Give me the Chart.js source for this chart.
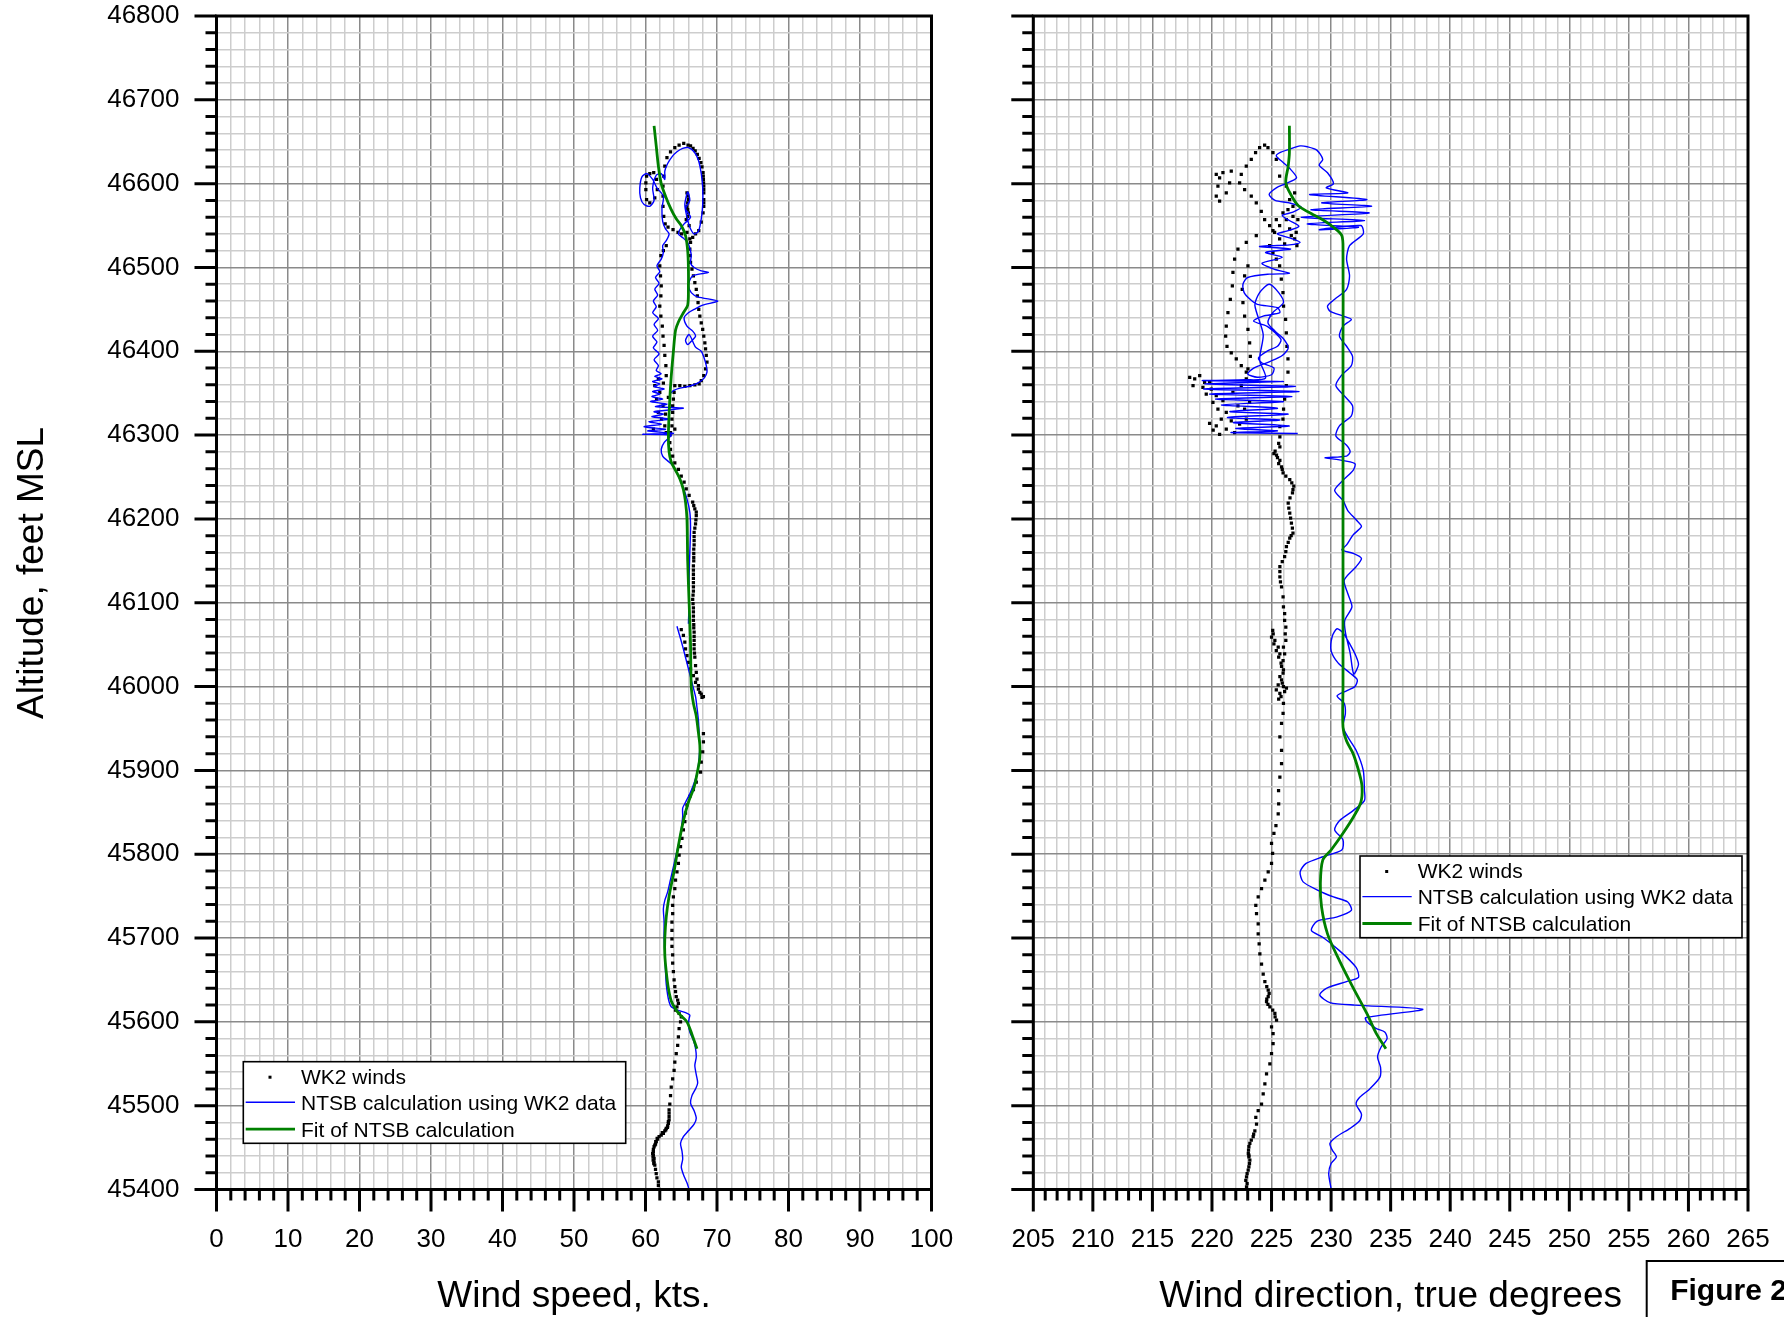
<!DOCTYPE html>
<html>
<head>
<meta charset="utf-8">
<script src="https://cdn.jsdelivr.net/npm/chart.js@4.4.1/dist/chart.umd.min.js"></script>
<style>
  html, body { margin: 0; padding: 0; background: #fff; }
  body { width: 1784px; height: 1317px; position: relative; overflow: hidden; }
  canvas { position: absolute; top: 0; }
  #speedChart { left: 0; }
  #dirChart { left: 980px; }
</style>
</head>
<body>
<canvas id="speedChart" width="980" height="1317"></canvas>
<canvas id="dirChart" width="804" height="1317"></canvas>
<script>
// ---------- axis labels ----------
const altitudeTicks = [45400, 45500, 45600, 45700, 45800, 45900, 46000, 46100, 46200, 46300, 46400, 46500, 46600, 46700, 46800];
const speedTicks = [0, 10, 20, 30, 40, 50, 60, 70, 80, 90, 100];
const directionTicks = [205, 210, 215, 220, 225, 230, 235, 240, 245, 250, 255, 260, 265];

const seriesNames = ['WK2 winds', 'NTSB calculation using WK2 data', 'Fit of NTSB calculation'];
const axisTitles = { altitude: 'Altitude, feet MSL', speed: 'Wind speed, kts.', direction: 'Wind direction, true degrees' };
const figureLabel = 'Figure 2';

// ---------- wind speed (kts, feet) ----------
const wk2Speed = [
  [61.9,45400],[61.8,45405],[61.8,45409],[61.6,45414],[61.5,45419],[61.4,45424],[61.3,45429],[61.2,45433],[61.2,45437],[61.1,45441],
  [61.1,45445],[61.1,45448],[61.2,45451],[61.4,45454],[61.5,45457],[61.7,45460],[61.9,45463],[62.2,45465],[62.5,45467],[62.7,45470],
  [62.9,45473],[63.1,45476],[63.2,45479],[63.3,45483],[63.3,45487],[63.3,45491],[63.3,45495],[63.4,45502],[63.5,45512],[63.6,45522],
  [63.8,45532],[64.0,45542],[64.1,45552],[64.3,45562],[64.5,45572],[64.6,45582],[64.7,45592],[64.9,45600],[65.0,45606],[64.7,45610],
  [64.2,45614],[64.4,45618],[64.6,45622],[64.5,45626],[64.3,45630],[64.2,45636],[64.1,45642],[64.0,45650],[63.9,45660],[63.8,45670],
  [63.8,45680],[63.7,45690],[63.7,45699],[63.7,45709],[63.7,45719],[63.8,45729],[63.8,45739],[63.9,45749],[64.1,45759],[64.2,45769],
  [64.4,45779],[64.6,45789],[64.7,45799],[64.9,45809],[65.1,45819],[65.3,45829],[65.5,45839],[65.6,45849],[65.8,45859],[66.2,45869],
  [66.7,45877],[67.1,45886],[67.7,45898],[67.8,45910],[68.0,45922],[68.1,45934],[68.1,45944],
  [68.1,45988],[67.9,45987],[67.8,45991],[67.6,45993],[67.4,46001],[67.2,46009],[67.1,46017],[67.0,46025],[66.9,46035],[66.8,46045],
  [66.8,46055],[66.8,46065],[66.75,46074],[66.7,46084],[66.7,46094],[66.6,46104],[66.7,46114],[66.7,46124],[66.7,46134],[66.7,46144],
  [66.75,46154],[66.75,46164],[66.8,46174],[66.8,46184],[67.0,46194],[67.1,46204],[66.9,46212],[66.6,46220],[66.1,46228],[65.7,46236],
  [65.4,46244],[65.0,46251],[64.6,46259],[64.1,46267],[63.8,46275],[63.5,46283],[63.4,46291],[63.4,46300],
  [65.0,46068],[65.3,46061],[65.5,46053],[65.6,46045],[65.8,46037],[66.0,46029],[66.3,46021],[66.7,46013],[67.0,46005],[67.4,45997],
  [63.5,46303],[63.7,46311],[63.7,46319],[63.8,46327],[63.8,46335],[63.9,46343],[64.0,46351],[64.1,46359],[64.8,46359],[65.5,46358],
  [66.2,46359],[66.9,46360],[67.5,46361],[67.8,46365],[68.15,46371],[68.4,46379],[68.6,46387],[68.5,46395],[68.4,46403],[68.3,46410],
  [68.15,46418],[68.0,46426],[67.8,46434],[67.6,46442],[67.45,46450],[67.35,46458],[67.25,46466],[67.1,46474],[66.9,46482],[66.7,46490],
  [66.5,46498],[66.3,46506],[66.25,46514],[66.2,46522],[66.3,46530],[66.6,46536],[67.0,46540],[67.45,46544],[67.8,46554],[68.05,46565],
  [68.15,46573],[68.15,46581],[68.15,46589],[68.15,46597],[68.1,46605],[68.05,46613],[67.75,46625],[67.25,46635],[66.65,46642],[65.95,46646],
  [65.35,46648],[64.7,46646],[64.1,46643],[63.5,46638],[63.0,46631],[62.7,46621],[62.55,46609],[62.45,46597],[62.45,46585],[62.45,46573],
  [62.55,46561],[62.75,46552],[63.15,46548],[63.85,46545],[64.55,46542],[65.05,46540],
  [65.8,46589],[66.0,46581],[65.8,46573],[66.0,46565],[65.7,46557],[66.1,46550],[65.8,46542],[66.2,46534],[65.9,46585],[65.9,46577],
  [65.9,46569],[65.9,46561],
  [62.9,46526],[62.5,46520],[62.15,46514],[62.0,46502],[62.1,46490],[62.2,46478],[62.15,46466],[62.0,46454],[62.15,46442],[62.35,46430],
  [62.45,46418],[62.6,46407],[62.7,46395],[62.85,46383],[62.9,46371],
  [60.15,46609],[60.6,46612],[61.15,46613],[61.55,46605],[61.65,46593],[61.3,46583],[60.6,46577],[60.15,46581],[60.05,46593],[60.05,46601],
  [61.8,46367],[61.3,46359],[62.0,46351],[61.55,46343],[62.45,46335],[61.8,46327],[62.25,46319],[62.7,46311],[62.9,46303],[61.1,46307],
  [64.1,46307],[62.5,46362],[63.2,46345],[62.8,46325],
  [61.16,45431],[61.07,45435],[61.05,45439],[61.0,45443],[61.3,45453],[61.44,45457],[61.63,45461],[62.35,45468],[62.84,45471],[63.07,45474],
  [63.2,45481],[66.85,46040],[66.8,46050],[66.8,46060],[66.75,46070],[66.7,46079],[66.7,46089],[66.65,46099],[66.65,46109],[66.7,46119],
  [66.7,46129],[66.7,46139],[66.75,46150],[66.75,46159],[66.8,46169],[66.8,46179],[66.9,46189],[67.05,46199],[67.1,46208],[66.75,46216],
  [68.15,46577],[68.15,46593],[68.12,46601],[68.08,46609],[67.9,46620],[67.5,46630],[66.95,46639],[66.3,46645]
];

const ntsbSpeed = [
  [66.1,45400],[65.8,45408],[65.3,45418],[65.0,45427],[65.2,45436],[65.1,45446],[64.9,45455],[65.3,45463],[66.0,45470],[66.8,45478],
  [67.1,45485],[66.8,45494],[66.3,45503],[66.5,45512],[67.0,45520],[67.3,45527],[67.1,45537],[66.9,45548],[67.1,45558],[67.0,45568],
  [66.7,45578],[66.2,45588],[66.0,45597],[66.1,45604],[66.2,45608],[65.6,45611],[64.5,45614],[63.6,45618],[63.3,45624],[63.1,45632],
  [62.9,45645],[62.8,45660],[62.7,45680],[62.6,45700],[62.6,45720],[62.5,45735],[62.7,45745],[63.1,45755],[63.5,45770],[63.9,45785],
  [64.3,45800],[64.7,45815],[65.0,45830],[65.2,45845],[65.2,45855],[65.6,45862],[66.2,45872],[66.8,45885],[67.3,45900],[67.5,45915],
  [67.6,45930],[67.5,45945],[67.4,45960],[67.2,45975],[67.0,45988],[66.4,46008],[65.8,46028],[65.2,46048],[64.7,46063],[64.4,46072],
  [null,null],
  [66.0,46075],[66.1,46100],[66.1,46130],[66.2,46160],[66.3,46190],[66.2,46208],[65.8,46224],[65.2,46239],[64.5,46253],[63.8,46264],
  [63.0,46270],[62.4,46275],[62.2,46283],[62.6,46291],[63.3,46297],[63.6,46300],
  [59.6,46301],[63.9,46302],[60.3,46305],[62.8,46307],[59.8,46310],[62.2,46313],[60.5,46316],[63.4,46319],[60.9,46322],[62.5,46325],
  [61.2,46328],[65.3,46332],[61.4,46334],[63.0,46337],[60.7,46340],[62.4,46343],[60.9,46346],[62.0,46349],[61.0,46352],[62.6,46355],
  [61.2,46358],[62.0,46361],[61.0,46364],[62.3,46367],[61.3,46370],[62.2,46373],[61.5,46377],
  [61.8,46383],[61.2,46390],[61.9,46397],[61.1,46404],[61.6,46411],[61.0,46418],[61.7,46425],[61.2,46432],[61.8,46439],[61.0,46446],
  [61.5,46453],[61.1,46460],[61.7,46467],[61.3,46474],[61.9,46481],[61.4,46488],[62.0,46495],[61.6,46502],[62.2,46510],[62.5,46518],
  [62.4,46526],[62.9,46532],[63.3,46540],[62.8,46546],
  [62.4,46555],[62.3,46570],[62.5,46585],[61.6,46595],[61.0,46605],[60.2,46612],[59.5,46608],[59.2,46595],[59.3,46583],[59.8,46575],
  [60.6,46573],[61.2,46580],[61.0,46595],[61.5,46610],[62.2,46612],[62.7,46605],[62.7,46615],[63.1,46624],[63.7,46632],[64.4,46638],
  [65.2,46642],[66.0,46643],[66.8,46638],[67.4,46628],[67.8,46612],[68.0,46595],[68.0,46575],[67.8,46558],[67.4,46543],
  [66.8,46540],[66.2,46548],[65.8,46560],[65.5,46575],[65.9,46590],[66.2,46580],[65.6,46570],[66.3,46560],[65.4,46552],[64.8,46545],
  [64.6,46540],[65.3,46535],[66.0,46528],[66.4,46515],
  [66.3,46505],[66.8,46500],[67.8,46496],[68.8,46494],[67.5,46492],[66.6,46490],[66.2,46485],[66.0,46478],[66.4,46470],[67.3,46465],
  [70.1,46460],[68.0,46455],[66.8,46450],[66.0,46446],[65.4,46440],[65.8,46430],[66.6,46424],[67.0,46418],[66.4,46412],[65.9,46408],
  [65.6,46413],[66.1,46420],[67.0,46405],[67.8,46400],[68.2,46392],[68.5,46383],[68.6,46375],[68.2,46368],[67.3,46362],[66.0,46358],
  [64.8,46356],[63.9,46353],[63.5,46350]
];

const fitSpeed = [
  [61.2,46669],[61.5,46645],[61.8,46621],[62.2,46600],[62.8,46585],[63.6,46569],[64.3,46558],[65.0,46550],[65.6,46538],[65.9,46520],
  [66.0,46500],[66.0,46475],[65.9,46455],[65.3,46446],[64.6,46435],[64.2,46425],[63.9,46400],[63.6,46370],[63.4,46343],[63.2,46300],
  [63.3,46280],[63.6,46268],[64.2,46258],[64.8,46248],[65.3,46235],[65.6,46220],[65.8,46200],[65.9,46150],[66.1,46100],[66.3,46050],
  [66.4,46000],[66.7,45980],[67.1,45965],[67.4,45945],[67.6,45930],[67.6,45915],[67.3,45900],[66.8,45880],[66.0,45862],[65.3,45840],
  [64.6,45810],[64.0,45780],[63.3,45750],[62.9,45725],[62.7,45700],[62.7,45680],[62.9,45660],[63.2,45640],[63.6,45625],[64.3,45614],
  [65.0,45607],[65.8,45600],[66.5,45585],[67.2,45568]
];

// ---------- wind direction (degrees true, feet) ----------
const wk2Direction = [
  [222.9,45403],[222.84,45411],[223.04,45423],[223.18,45435],[223.1,45441],[223.07,45447],[223.18,45455],[223.46,45463],[223.6,45470],[223.74,45478],
  [223.68,45486],[223.88,45494],[224.16,45502],[224.3,45514],[224.44,45526],[224.58,45538],[224.86,45550],[225.0,45562],[225.13,45574],[225.13,45586],
  [225.0,45594],[225.42,45602],[225.28,45610],[224.86,45618],[224.58,45624],[224.72,45630],[224.72,45638],[224.44,45648],[224.3,45657],[224.16,45669],
  [224.02,45681],[223.96,45693],[223.88,45705],[223.88,45717],[223.74,45729],[223.68,45739],[223.88,45749],[224.16,45759],[224.44,45769],[224.72,45779],
  [225.0,45789],[225.09,45801],[225.0,45813],[225.2,45825],[225.37,45834],[225.56,45848],[225.6,45860],
  [225.59,45876],[225.7,45892],[225.84,45908],[225.84,45924],[225.7,45940],[225.84,45956],[225.97,45968],[226.0,45980],[225.7,45992],[225.4,45996],
  [226.0,46000],[225.56,46002],[226.25,45998],[225.84,46008],[225.97,46016],[225.84,46024],[225.97,46031],[225.7,46039],[225.56,46047],[225.28,46055],
  [225.14,46063],[225.1,46067],[226.1,46039],[226.2,46055],[226.2,46071],[226.1,46079],[226.1,46087],[226.0,46095],[225.97,46107],[225.84,46119],
  [225.7,46131],[225.7,46143],[226.1,46155],[226.25,46167],[226.53,46177],[226.8,46183],[226.67,46195],[226.53,46207],[226.4,46219],[226.76,46231],
  [226.87,46239],[226.53,46247],[225.97,46255],[225.84,46262],[225.7,46270],[225.42,46276],[225.2,46278],[225.7,46286],[225.7,46298],[225.7,46310],
  [225.96,46319],[226.01,46331],[226.1,46343],[226.24,46359],[226.38,46375],[226.38,46391],[226.29,46406],[226.24,46422],[226.18,46438],[226.01,46454],
  [225.96,46470],[225.82,46486],[225.68,46502],[225.4,46510],[225.12,46518],[224.84,46526],
  [225.26,46542],[225.68,46550],[226.24,46557],[226.8,46561],[227.21,46557],[227.07,46542],[227.13,46526],[226.94,46534],[226.52,46546],[226.8,46573],
  [226.52,46581],[226.94,46589],[226.24,46597],[225.68,46609],[225.4,46629],[225.12,46637],[224.7,46643],[224.42,46646],[224.0,46643],[223.66,46637],
  [223.3,46629],[222.88,46621],[222.46,46611],[222.32,46601],[222.74,46593],[223.3,46585],[223.72,46577],[224.14,46567],[224.42,46557],[224.84,46550],
  [225.12,46544],[225.96,46565],[226.38,46569],[226.66,46538],[225.68,46534],[226.1,46528],[225.4,46557],
  [220.92,46613],[221.62,46615],[221.48,46601],[221.2,46589],[220.64,46579],[220.36,46585],[220.5,46597],[220.64,46607],[220.36,46611],
  [223.72,46538],[222.88,46530],[222.18,46522],[221.9,46510],[221.76,46494],[221.71,46478],[221.54,46462],[221.34,46446],[221.2,46430],[221.15,46418],
  [221.26,46406],[221.62,46398],[222.04,46391],[222.46,46383],[222.88,46375],
  [223.02,46502],[222.74,46490],[222.54,46474],[222.6,46458],[222.74,46442],[223.02,46426],[223.16,46410],[223.22,46394],[223.02,46379],
  [218.13,46369],[218.55,46367],[218.97,46371],[219.38,46363],[218.41,46359],[219.24,46357],[219.94,46355],[219.52,46349],[220.36,46347],[220.08,46339],
  [220.92,46341],[220.5,46331],[221.2,46327],[220.78,46319],[221.62,46317],[220.36,46311],[221.2,46307],[220.64,46301],[221.9,46303],[222.32,46313],
  [222.88,46319],[222.74,46331],[223.16,46339],[222.18,46335],[221.76,46351],[222.46,46359],[222.88,46367],[219.8,46363],[220.1,46306],[219.8,46314],
  [222.95,45407],[222.9,45415],[222.95,45419],[223.1,45427],[223.15,45431],[223.1,45439],[223.05,45443],[223.1,45451],[223.3,45459],[223.5,45466],
  [225.3,45606],[225.1,45614],[224.7,45621],[224.6,45627],[224.8,45634],[224.6,45642],
  [225.6,45985],[225.8,45988],[226.1,45994],[225.9,46004],[225.7,46012],[226.0,46020],[225.8,46028],[225.6,46035],[225.4,46043],[225.2,46051],
  [225.0,46059],[226.0,46047],[226.15,46063],[225.9,46259],[225.6,46266],[225.5,46273],[225.3,46281],[225.6,46290],
  [225.75,46125],[225.7,46137],[225.9,46149],[226.2,46161],[226.4,46172],[226.65,46180],[226.75,46189],[226.6,46201],[226.45,46213],[226.55,46225],
  [226.8,46235],[226.7,46243],[226.2,46251]
];

const ntsbDirection = [
  [230.0,45401],[229.8,45419],[230.0,45431],[230.45,45439],[230.1,45447],[229.9,45455],[230.45,45463],[231.6,45473],[232.4,45482],[232.55,45490],
  [232.1,45502],[232.4,45510],[233.25,45520],[234.1,45534],[234.15,45546],[233.9,45558],[234.2,45570],[234.7,45580],[234.5,45588],[233.8,45592],
  [233.0,45600],[232.9,45605],[237.7,45615],[232.0,45620],[229.9,45623],[229.05,45632],[229.6,45640],[231.3,45648],[232.3,45653],[232.1,45665],
  [230.7,45685],[229.3,45701],[228.35,45709],[228.8,45720],[230.45,45725],[231.7,45733],[231.4,45743],[230.2,45749],[228.9,45757],[227.65,45767],
  [227.4,45779],[227.9,45789],[229.3,45797],[230.9,45805],[231.0,45817],[230.3,45829],[230.7,45840],[231.85,45852],[232.8,45864],[232.8,45876],
  [232.7,45900],[232.1,45924],[231.4,45940],[231.0,45952],
  [231.2,45968],[231.1,45980],[230.5,45989],[231.3,45995],[232.0,46000],[232.2,46008],[231.6,46016],[230.6,46028],[230.0,46043],[230.1,46060],
  [230.5,46069],[231.0,46064],[231.6,46050],[232.1,46036],[232.3,46026],[231.9,46015],[231.6,46040],[231.2,46065],[231.15,46079],
  [231.75,46095],[231.4,46111],[231.1,46127],[232.1,46143],[232.55,46153],[231.85,46159],[230.9,46163],[231.3,46169],[231.85,46181],[232.55,46191],
  [232.1,46199],[231.4,46210],[231.0,46222],[230.3,46234],[231.0,46246],[231.85,46258],[232.0,46266],[230.45,46271],[229.5,46273],[231.3,46275],
  [231.6,46280],[231.3,46288],[230.4,46299],[230.7,46311],[231.7,46323],[231.8,46335],[231.1,46347],[230.4,46359],[230.85,46371],[231.7,46383],
  [231.8,46394],[231.3,46406],[230.7,46418],[231.0,46430],[231.7,46438],[231.0,46442],[229.9,46448],[229.7,46454],[230.3,46462],[231.3,46474],
  [231.55,46490],[231.3,46510],[231.55,46526],[232.7,46540],[232.5,46550],
  [229.0,46545],[232.3,46548],[228.0,46552],[232.8,46556],[227.5,46560],[233.2,46565],[228.3,46569],[233.4,46573],[229.2,46577],[233.0,46581],
  [228.2,46587],[231.4,46589],[229.6,46595],[230.2,46600],[229.7,46613],[229.0,46622],[229.3,46629],[228.8,46640],[228.0,46644],[227.4,46645],
  [226.5,46641],[225.7,46637],[225.4,46633],[226.0,46625],[226.6,46617],[227.1,46607],[226.2,46600],[225.4,46595],[224.8,46587],[225.3,46580],
  [226.5,46577],[227.5,46572],[226.8,46566],[225.9,46562],[226.5,46556],[227.3,46549],[226.4,46544],[225.5,46540],[226.6,46535],[227.4,46530],
  [226.5,46527],[225.0,46526],[224.0,46525],
  [226.6,46522],[224.5,46518],[225.9,46512],[224.2,46505],[225.2,46498],[226.5,46493],[224.8,46492],[223.0,46488],[222.6,46480],[222.7,46470],
  [223.2,46462],[223.8,46456],[225.5,46452],[225.7,46446],[224.3,46442],[223.5,46436],[224.6,46430],[225.3,46422],[225.8,46414],[225.5,46406],
  [224.6,46400],[223.9,46392],[224.2,46386],[225.2,46380],[225.0,46372],[223.8,46369],[223.0,46373],[223.5,46380],[224.9,46388],[225.9,46395],
  [226.4,46404],[226.0,46415],[225.3,46424],[224.7,46434],[225.1,46446],[226.0,46458],[225.6,46470],[224.8,46480],[224.0,46470],[223.6,46455],
  [224.3,46420],[224.0,46390],[224.5,46368],
  [222.8,46366],[219.2,46365],[226.0,46364],[219.4,46361],[227.0,46358],[219.3,46355],[227.3,46352],[219.8,46349],[226.7,46346],[220.3,46343],
  [226.0,46340],[220.8,46336],[225.5,46332],[221.5,46328],[226.4,46325],[221.3,46321],[225.7,46318],[221.8,46315],[226.5,46311],[222.0,46308],
  [225.5,46305],[221.6,46303],[227.2,46302]
];

const fitDirection = [
  [226.5,46669],[226.5,46637],[226.4,46621],[226.2,46601],[226.7,46585],[227.3,46573],[228.5,46563],[229.3,46557],[230.2,46548],[230.9,46538],
  [231.0,46518],[231.0,46400],[231.0,46200],[231.0,46000],[231.0,45952],[231.3,45935],[231.85,45920],[232.4,45895],[232.6,45880],[232.5,45862],
  [231.9,45845],[231.0,45825],[230.0,45805],[229.3,45793],[229.1,45765],[229.2,45737],[229.7,45705],[230.7,45673],[231.8,45642],[233.0,45610],
  [233.8,45586],[234.6,45568]
];

// ---------- drawing ----------
const FONT = '"Liberation Sans", Arial, Helvetica, sans-serif';
const GRID_MAJOR = '#8a8a8a';
const GRID_MINOR = '#cdcdcd';
const BLUE = '#0000ff';
const GREEN = '#008000';

const toPoints = arr => arr.map(p => ({ x: p[0], y: p[1] }));

function buildDatasets(wk2, ntsb, fit) {
  return [
    { label: seriesNames[2], data: toPoints(fit), showLine: true, borderColor: GREEN, borderWidth: 2.8,
      pointRadius: 0, tension: 0.3, spanGaps: false },
    { label: seriesNames[1], data: toPoints(ntsb), showLine: true, borderColor: BLUE, borderWidth: 1.4,
      pointRadius: 0, tension: 0.25, spanGaps: false },
    { label: seriesNames[0], data: toPoints(wk2), showLine: false, pointStyle: 'rect', pointRadius: 2.3,
      backgroundColor: '#000', borderWidth: 0 }
  ];
}

function drawLegend(ctx, chart, box) {
  const ds = chart.data.datasets;
  ctx.save();
  ctx.fillStyle = '#fff';
  ctx.fillRect(box.x, box.y, box.w, box.h);
  ctx.strokeStyle = '#000';
  ctx.lineWidth = 1.6;
  ctx.strokeRect(box.x, box.y, box.w, box.h);
  // WK2 marker
  ctx.fillStyle = '#000';
  ctx.fillRect(box.x + 25.2, box.y + 14, 3, 3);
  // line samples
  ctx.lineCap = 'butt';
  ctx.strokeStyle = ds[1].borderColor; ctx.lineWidth = 1.4;
  ctx.beginPath(); ctx.moveTo(box.x + 2.4, box.y + 40.6); ctx.lineTo(box.x + 51.7, box.y + 40.6); ctx.stroke();
  ctx.strokeStyle = ds[0].borderColor; ctx.lineWidth = 2.8;
  ctx.beginPath(); ctx.moveTo(box.x + 2.4, box.y + 67.5); ctx.lineTo(box.x + 51.7, box.y + 67.5); ctx.stroke();
  // labels
  ctx.fillStyle = '#000';
  ctx.font = '21px ' + FONT;
  ctx.textAlign = 'left';
  ctx.textBaseline = 'alphabetic';
  ctx.fillText(ds[2].label, box.x + 57.7, box.y + 22);
  ctx.fillText(ds[1].label, box.x + 57.7, box.y + 48.3);
  ctx.fillText(ds[0].label, box.x + 57.7, box.y + 74.8);
  ctx.restore();
}

function makeDecor(opts) {
  return {
    id: 'decor',
    afterDatasetsDraw(chart) {
      drawLegend(chart.ctx, chart, opts.legend);
    },
    afterDraw(chart) {
      const { ctx, chartArea: a, scales } = chart;
      ctx.save();
      ctx.strokeStyle = '#000';
      ctx.lineWidth = 3;
      ctx.lineCap = 'butt';
      ctx.beginPath();
      for (const t of scales.x.ticks) {
        const px = scales.x.getPixelForValue(t.value);
        const len = opts.majorX(t.value) ? 22 : 11;
        ctx.moveTo(px, a.bottom); ctx.lineTo(px, a.bottom + len);
      }
      for (const t of scales.y.ticks) {
        const py = scales.y.getPixelForValue(t.value);
        const len = majorAlt(t.value) ? 22 : 11;
        ctx.moveTo(a.left, py); ctx.lineTo(a.left - len, py);
      }
      ctx.stroke();
      ctx.strokeRect(a.left, a.top, a.right - a.left, a.bottom - a.top);

      ctx.fillStyle = '#000';
      ctx.font = '37px ' + FONT;
      ctx.textAlign = 'center';
      ctx.textBaseline = 'alphabetic';
      ctx.fillText(opts.xTitle, (a.left + a.right) / 2, 1307);
      if (opts.yTitle) {
        ctx.save();
        ctx.translate(43, 573);
        ctx.rotate(-Math.PI / 2);
        ctx.fillText(opts.yTitle, 0, 0);
        ctx.restore();
      }
      if (opts.figureBox) {
        const f = opts.figureBox;
        ctx.lineWidth = 2;
        ctx.strokeRect(f.x, f.y, 300, 100);
        ctx.font = 'bold 30px ' + FONT;
        ctx.textAlign = 'left';
        ctx.fillText(figureLabel, f.x + 23.5, f.y + 39);
      }
      ctx.restore();
    }
  };
}

const majorAlt = v => (v - 45400) % 100 === 0;
const majorSpeed = v => v % 10 === 0;
const majorDir = v => v % 5 === 0;

// fixed axis boxes so the plot area sits at the same place in both panels
function yScale(showLabels, width) {
  return {
    type: 'linear', min: 45400, max: 46800,
    afterFit: s => { s.width = width; s.paddingTop = 0; s.paddingBottom = 0; },
    border: { display: false },
    grid: { color: c => majorAlt(c.tick.value) ? GRID_MAJOR : GRID_MINOR, lineWidth: 1.5, drawTicks: false },
    ticks: {
      display: showLabels, stepSize: 20, autoSkip: false, padding: 37, color: '#000',
      font: { family: FONT, size: 26 },
      callback: v => altitudeTicks.includes(v) ? String(v) : ''
    }
  };
}

function xScale(min, max, step, labels, isMajor) {
  return {
    type: 'linear', position: 'bottom', min, max,
    afterFit: s => { s.height = 127.5; s.paddingLeft = 0; s.paddingRight = 0; },
    border: { display: false },
    grid: { color: c => isMajor(c.tick.value) ? GRID_MAJOR : GRID_MINOR, lineWidth: 1.5, drawTicks: false },
    ticks: {
      stepSize: step, autoSkip: false, maxRotation: 0, padding: 35, color: '#000',
      font: { family: FONT, size: 26 },
      callback: v => labels.includes(v) ? String(v) : ''
    }
  };
}

const common = {
  responsive: false, animation: false, devicePixelRatio: 1, events: [],
  plugins: { legend: { display: false }, tooltip: { enabled: false } }
};

new Chart(document.getElementById('speedChart'), {
  type: 'scatter',
  data: { datasets: buildDatasets(wk2Speed, ntsbSpeed, fitSpeed) },
  options: Object.assign({}, common, {
    layout: { padding: { top: 16, right: 48.5, left: 0, bottom: 0 } },
    scales: { x: xScale(0, 100, 2, speedTicks, majorSpeed), y: yScale(true, 216.5) }
  }),
  plugins: [makeDecor({
    majorX: majorSpeed, xTitle: axisTitles.speed, yTitle: axisTitles.altitude,
    legend: { x: 243.3, y: 1061.7, w: 382.4, h: 81.6 }
  })]
});

new Chart(document.getElementById('dirChart'), {
  type: 'scatter',
  data: { datasets: buildDatasets(wk2Direction, ntsbDirection, fitDirection) },
  options: Object.assign({}, common, {
    layout: { padding: { top: 16, right: 36, left: 0, bottom: 0 } },
    scales: { x: xScale(205, 265, 1, directionTicks, majorDir), y: yScale(false, 53.3) }
  }),
  plugins: [makeDecor({
    majorX: majorDir, xTitle: axisTitles.direction,
    legend: { x: 380, y: 856, w: 382, h: 81.7 },
    figureBox: { x: 666.7, y: 1261 }
  })]
});
</script>
</body>
</html>
